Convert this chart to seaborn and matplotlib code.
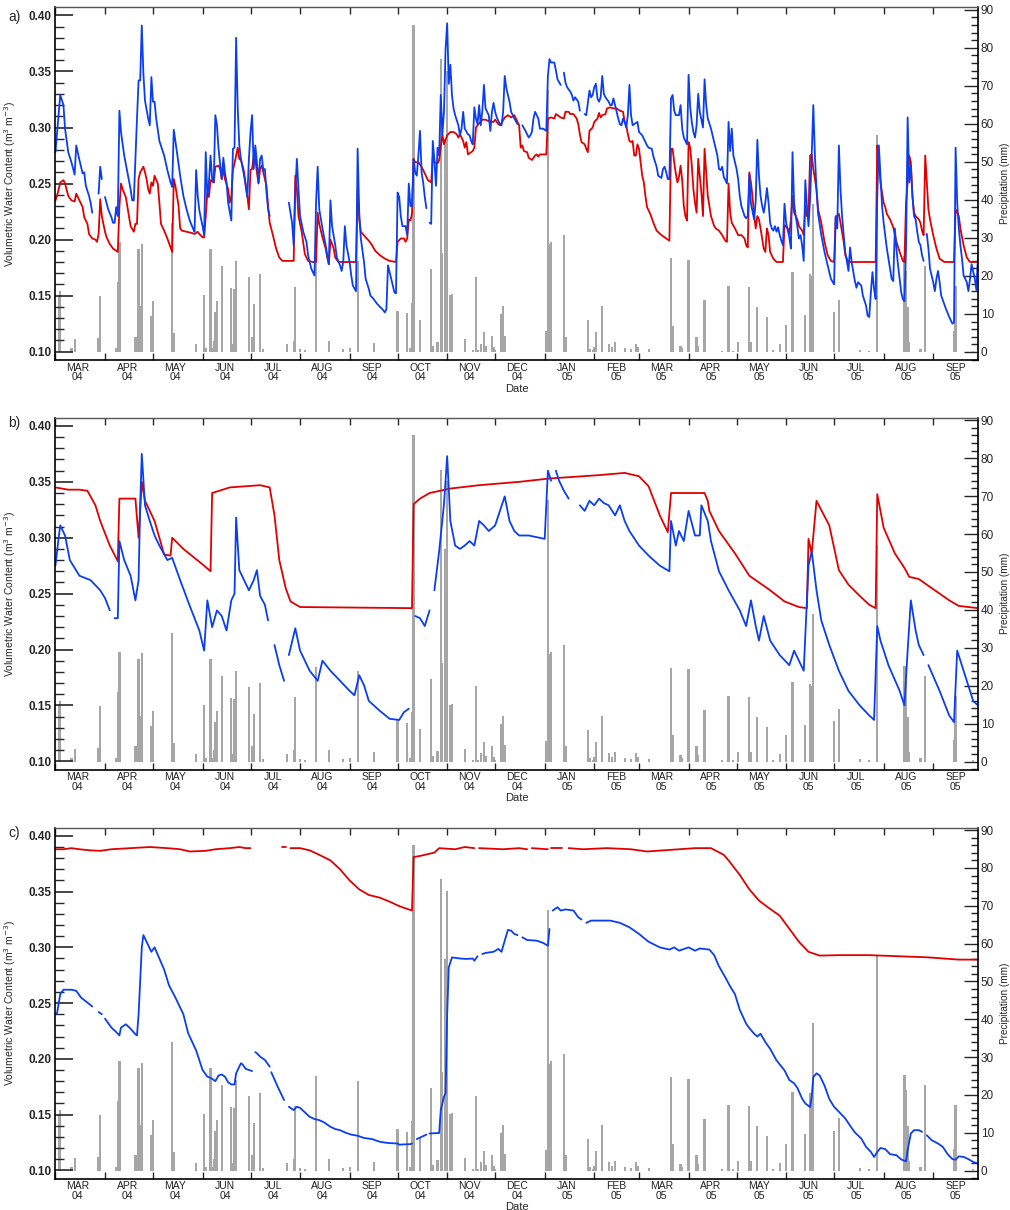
import numpy as np
import pandas as pd
import seaborn as sns
import matplotlib.pyplot as plt
import matplotlib.dates as mdates
from matplotlib.ticker import MultipleLocator, FuncFormatter

# all records are given as days since 1 March 2004
START = pd.Timestamp("2004-03-01")
LAST_DAY = 577.0

# daily precipitation (day, mm) - same gauge for the three profiles
rain = [
    (2, 15), (3, 16), (10, 1), (12, 3.4), (27, 3.6), (28, 14.6), (38, 1), (39, 18.3),
    (40, 29), (50, 4), (51, 2), (52, 27), (53, 12), (54, 28.5), (60, 9.4), (61, 13.3),
    (73, 34), (74, 5), (88, 2), (93, 14.9), (94, 1), (97, 27), (98, 1), (99, 3),
    (100, 10.4), (101, 13.3), (104, 22.6), (110, 16.7), (111, 2), (112, 16.5), (113, 24),
    (121, 19.6), (123, 4), (124, 12.6), (128, 20.6), (130, 0.7), (145, 2), (149, 3),
    (150, 17), (153, 0.8), (156, 0.5), (163, 25), (171, 3), (180, 0.8), (184, 1),
    (189, 23.8), (199, 2.4), (214, 10.9), (220, 10.3), (222, 1), (223, 13), (224, 86),
    (228, 8.5), (235, 21.8), (236, 1.6), (239, 2.7), (241, 77), (242, 26), (244, 56),
    (245, 74), (247, 15), (248, 15.2), (256, 3.3), (261, 0.4), (263, 19.8), (264, 0.4),
    (266, 2.2), (268, 5.2), (269, 1.6), (273, 4.2), (274, 1.2), (275, 0.5), (279, 10),
    (280, 12), (281, 4.3), (307, 5.5), (308, 69), (309, 28.3), (310, 29), (318, 30.8),
    (319, 4), (333, 8.3), (334, 0.9), (336, 0.5), (337, 1.3), (338, 5.2), (342, 12),
    (346, 2.2), (348, 1.2), (350, 2.6), (356, 1), (360, 0.8), (363, 2.2), (364, 1.2),
    (371, 0.8), (385, 24.8), (386, 6.9), (391, 1.7), (392, 1), (396, 24.3), (401, 4),
    (402, 1.7), (406, 13.6), (417, 0.3), (421, 17.4), (424, 0.3), (427, 2.6), (434, 17),
    (435, 2.5), (439, 11.7), (445, 9.1), (449, 0.5), (453, 2), (457, 7), (461, 20.9),
    (469, 9.7), (472, 20.5), (473, 20), (474, 38.9), (487, 10.6), (490, 13.8), (503, 0.6),
    (509, 0.3), (514, 57), (531, 25.3), (532, 21.2), (533, 11.7), (534, 2.6), (541, 0.9),
    (544, 22.6), (562, 5.6), (563, 17.4), (574, 0.3),
]

# volumetric water content (day, m3/m3); None = break in the record
a_red = [
    (0, .235), (1, .239), (3, .251), (5, .253), (6, .250), (8, .239), (10, .235), (12, .234),
    (13, .241), (15, .235), (17, .229), (18, .220), (20, .214), (21, .205), (23, .201),
    (25, .200), (26, .198), (27, .205), (28, .236), (29, .221), (31, .207), (32, .202),
    (34, .196), (36, .192), (38, .190), (39, .189), (40, .229), (41, .250), (42, .245),
    (44, .238), (46, .221), (47, .212), (49, .207), (50, .214), (51, .214), (52, .254),
    (53, .260), (55, .265), (56, .260), (57, .254), (58, .245), (59, .241), (60, .251),
    (61, .248), (62, .257), (64, .250), (65, .233), (66, .214), (68, .208), (70, .201),
    (72, .193), (73, .189), (74, .254), (75, .248), (77, .230), (78, .210), (79, .208),
    (82, .207), (85, .206), (87, .205), (89, .207), (90, .205), (92, .202), (93, .202),
    (94, .221), (95, .242), (96, .238), (97, .253), (99, .251), (100, .265), (102, .266),
    (103, .263), (104, .254), (105, .263), (106, .254), (108, .245), (109, .233), (110, .239),
    (111, .262), (112, .268), (114, .282), (115, .272), (116, .271), (117, .266), (118, .260),
    (120, .239), (121, .227), (122, .262), (123, .263), (124, .275), (125, .272), (126, .260),
    (127, .250), (128, .263), (129, .266), (130, .260), (132, .248), (133, .230), (134, .215),
    (136, .204), (138, .192), (140, .184), (142, .181), (145, .181), (148, .181), (149, .181),
    (150, .257), (151, .245), (152, .221), (154, .207), (156, .187), (158, .181), (161, .180),
    (163, .180), (164, .224), (165, .214), (167, .202), (169, .192), (170, .184), (171, .178),
    (172, .200), (174, .192), (175, .184), (177, .180), (180, .180), (184, .180), (188, .180),
    (189, .245), (190, .218), (191, .207), (194, .202), (196, .199), (198, .195), (200, .190),
    (203, .186), (206, .183), (209, .181), (213, .180), (214, .198), (216, .201), (218, .201),
    (219, .198), (220, .201), (221, .218), (222, .217), (223, .223), (224, .272), (225, .269),
    (227, .269), (229, .265), (230, .262), (232, .256), (233, .253), (235, .251), (236, .274),
    (237, .269), (239, .268), (240, .271), (242, .294), (243, .285), (245, .293), (247, .296),
    (249, .296), (251, .294), (252, .291), (253, .294), (255, .288), (256, .282), (257, .287),
    (258, .276), (260, .278), (261, .279), (262, .282), (263, .300), (264, .302), (267, .307),
    (269, .307), (272, .305), (274, .305), (275, .307), (277, .303), (278, .302), (279, .304),
    (281, .309), (283, .311), (285, .309), (287, .311), (288, .308), (290, .302), (291, .282),
    (292, .284), (293, .279), (295, .278), (296, .273), (298, .271), (300, .275), (301, .276),
    (302, .274), (303, .276), (305, .276), (307, .276), (308, .308), (310, .309), (312, .308),
    (313, .312), (314, .311), (316, .309), (318, .308), (319, .314), (321, .314), (322, .312),
    (324, .312), (326, .308), (327, .303), (328, .294), (329, .287), (331, .285), (332, .281),
    (333, .278), (334, .297), (336, .300), (337, .305), (339, .308), (340, .313), (341, .309),
    (342, .311), (344, .312), (345, .317), (347, .318), (349, .317), (351, .317), (353, .315),
    (355, .314), (356, .305), (357, .302), (358, .294), (359, .288), (360, .287), (361, .288),
    (362, .275), (363, .275), (364, .285), (365, .281), (366, .269), (367, .257), (368, .251),
    (369, .239), (370, .229), (372, .223), (374, .215), (376, .208), (379, .204), (381, .202),
    (383, .200), (384, .199), (385, .281), (386, .281), (387, .269), (388, .259), (389, .251),
    (390, .256), (391, .266), (392, .253), (393, .230), (394, .221), (395, .217), (396, .287),
    (397, .282), (398, .266), (399, .245), (400, .233), (401, .224), (402, .272), (403, .257),
    (404, .242), (405, .221), (406, .281), (407, .260), (408, .239), (410, .221), (412, .212),
    (413, .210), (415, .208), (417, .204), (419, .199), (420, .198), (421, .250), (422, .224),
    (423, .215), (425, .210), (427, .204), (429, .204), (431, .201), (432, .195), (433, .193),
    (434, .260), (435, .251), (436, .238), (437, .221), (438, .210), (439, .221), (440, .218),
    (441, .210), (442, .201), (443, .192), (444, .189), (445, .210), (446, .204), (447, .189),
    (449, .183), (451, .180), (455, .180), (456, .213), (458, .210), (459, .205), (460, .218),
    (461, .239), (462, .224), (464, .218), (465, .212), (467, .208), (468, .204), (469, .230),
    (470, .221), (471, .223), (472, .275), (473, .276), (474, .263), (476, .245), (477, .227),
    (479, .215), (481, .198), (483, .186), (485, .181), (487, .180), (488, .220), (489, .221),
    (490, .223), (491, .215), (493, .198), (494, .186), (496, .180), (500, .180), (506, .180),
    (513, .180), (514, .284), (515, .272), (516, .251), (518, .233), (519, .229), (520, .223),
    (522, .218), (524, .211), (526, .198), (528, .189), (530, .181), (531, .180), (532, .233),
    (533, .251), (534, .275), (535, .269), (536, .239), (537, .224), (538, .221), (540, .218),
    (541, .215), (542, .208), (543, .204), (544, .275), (545, .251), (546, .227), (547, .218),
    (549, .204), (551, .192), (553, .183), (556, .180), (562, .180), (563, .227), (565, .221),
    (566, .210), (568, .195), (570, .184), (572, .180), (577, .180),
]

a_blue = [
    (0, .278), (3, .329), (5, .320), (6, .299), (8, .278), (10, .269), (12, .258), (13, .284),
    (15, .271), (17, .259), (18, .260), (19, .248), (21, .239), (22, .233), (23, .224), None,
    (27, .241), (28, .265), (29, .254), None,
    (31, .238), (33, .227), (35, .220), (36, .215), (37, .215), (38, .229), (39, .221),
    (40, .315), (41, .296), (43, .275), (45, .260), (47, .245), (48, .235), (49, .235),
    (51, .308), (52, .342), (53, .342), (54, .391), (55, .348), (56, .324), (58, .308),
    (59, .302), (60, .345), (61, .323), (62, .323), (63, .308), (65, .288), (68, .275),
    (70, .262), (72, .251), (73, .247), (74, .298), (76, .278), (78, .257), (80, .239),
    (82, .227), (84, .217), (86, .210), (87, .207), (88, .262), (89, .239), (90, .226),
    (92, .212), (93, .204), (94, .278), (95, .238), (96, .251), (97, .275), (98, .254),
    (99, .251), (100, .311), (101, .302), (102, .281), (104, .254), (105, .273), (106, .260),
    (107, .251), (108, .233), (110, .217), (111, .281), (112, .282), (113, .380), (114, .317),
    (115, .284), (116, .272), (118, .257), (120, .238), (121, .272), (122, .296), (123, .311),
    (124, .263), (125, .284), (126, .269), (127, .251), (128, .272), (129, .275), (130, .262),
    (131, .263), (132, .242), (133, .227), (134, .221), None,
    (146, .233), (148, .215), (149, .195), (150, .242), (151, .272), (152, .245), (153, .221),
    (155, .207), (157, .198), (158, .186), (160, .174), (162, .168), (163, .233), (164, .265),
    (165, .227), (167, .210), (169, .195), (170, .186), (171, .178), (172, .235), (173, .212),
    (175, .195), (176, .184), (178, .177), (179, .172), (180, .180), (181, .212), (182, .195),
    (184, .180), (185, .168), (186, .159), (188, .154), (189, .281), (190, .224), (191, .201),
    (193, .180), (194, .165), (196, .156), (197, .150), (199, .147), (201, .143), (203, .140),
    (205, .137), (206, .135), (207, .138), (208, .177), (210, .165), (212, .153), (213, .152),
    (214, .242), (215, .238), (216, .221), (217, .212), (219, .212), (220, .204), (221, .250),
    (222, .230), (223, .230), (224, .272), (225, .260), (226, .257), (227, .275), (228, .297),
    (229, .260), (230, .251), (231, .238), (232, .228), None,
    (234, .215), (235, .214), (236, .288), (237, .271), (238, .248), (239, .282), (240, .275),
    (241, .329), (242, .294), (243, .314), (244, .370), (245, .393), (246, .339), (247, .356),
    (248, .329), (249, .317), (250, .311), (252, .302), (253, .293), (254, .299), (255, .314),
    (256, .299), (258, .294), (259, .293), (260, .288), (261, .285), (262, .318), (263, .308),
    (264, .303), (265, .320), (266, .302), (267, .315), (268, .338), (269, .317), (271, .311),
    (272, .297), (273, .314), (274, .322), (275, .314), (276, .309), (278, .303), (279, .302),
    (280, .314), (281, .346), (282, .335), (284, .323), (285, .314), (287, .308), (289, .303),
    None,
    (292, .302), (294, .297), (296, .291), (297, .293), (298, .296), (299, .308), (300, .314),
    (302, .308), (303, .299), (305, .299), (307, .297), (308, .346), (309, .361), (310, .358),
    (312, .358), (313, .351), (314, .343), (316, .338), None,
    (318, .349), (319, .340), (320, .336), (322, .332), (323, .329), (324, .324), (325, .327),
    (327, .323), (328, .315), None,
    (331, .312), (332, .311), (334, .333), (335, .327), (336, .329), (337, .336), (338, .339),
    (339, .326), (340, .323), (341, .327), (342, .346), (343, .330), (344, .327), (346, .323),
    (347, .320), (348, .320), (349, .326), (350, .320), (352, .308), (353, .303), (354, .302),
    (355, .308), (356, .305), (357, .300), (358, .311), (359, .338), (360, .311), (361, .302),
    (362, .303), (364, .305), (365, .296), (367, .293), (368, .290), (370, .284), (371, .282),
    (373, .281), (374, .274), (376, .265), (377, .257), (379, .255), (380, .263), (381, .265),
    (382, .260), (383, .254), (384, .254), (385, .326), (386, .329), (387, .315), (388, .311),
    (390, .311), (391, .320), (392, .299), (393, .291), (395, .285), (396, .347), (397, .318),
    (398, .305), (399, .296), (400, .291), (401, .302), (402, .330), (403, .314), (405, .300),
    (406, .343), (407, .320), (408, .308), (410, .299), (412, .287), (414, .275), (415, .263),
    (416, .262), (417, .265), (418, .256), (420, .250), (421, .305), (422, .279), (423, .299),
    (424, .275), (426, .263), (427, .254), (428, .239), (429, .230), (431, .221), (432, .219),
    (433, .221), (434, .258), (435, .232), (437, .218), (438, .235), (439, .289), (440, .257),
    (441, .239), (442, .230), (443, .224), (444, .233), (445, .246), (446, .233), (447, .215),
    (448, .210), (449, .208), (450, .212), (451, .207), (452, .211), (453, .204), (454, .199),
    (455, .195), (456, .232), (457, .215), (459, .202), (460, .192), (461, .278), (462, .232),
    (463, .221), (464, .212), (465, .201), (466, .204), (467, .195), (468, .181), (469, .253),
    (470, .230), (471, .212), (472, .236), (473, .275), (474, .320), (475, .275), (476, .245),
    (477, .223), (479, .204), (481, .189), (483, .177), (485, .165), (487, .160), (488, .221),
    (489, .210), (490, .284), (491, .245), (492, .221), (493, .204), (494, .189), (496, .172),
    (497, .193), (498, .180), (500, .163), (501, .157), (502, .162), (504, .159), (505, .150),
    (507, .141), (508, .132), (509, .131), (510, .153), (511, .171), (512, .156), (513, .147),
    (514, .239), (515, .284), (516, .257), (517, .230), (518, .215), (520, .192), (522, .174),
    (523, .165), (524, .163), (525, .210), (526, .192), (527, .177), (528, .165), (529, .153),
    (530, .147), (531, .145), (532, .192), (533, .309), (534, .251), (535, .266), (536, .239),
    (537, .221), (538, .218), (539, .207), (540, .198), (541, .195), (542, .186), (543, .181),
    None,
    (545, .205), (546, .192), (547, .174), (549, .162), (550, .154), (551, .165), (552, .172),
    (553, .162), (554, .150), (557, .138), (559, .131), (561, .125), (562, .126), (563, .282),
    (564, .233), (565, .210), (566, .195), (567, .183), (568, .168), (570, .162), (571, .154),
    (572, .165), (573, .178), (575, .165), (576, .155), (577, .186),
]

b_red = [
    (0, .345), (8, .343), (15, .343), (20, .342), (25, .329), (28, .315), (34, .293),
    (39, .279), (40, .335), (50, .335), (52, .300), (54, .350), (56, .333), (62, .315),
    (68, .285), (72, .284), (73, .300), (80, .290), (93, .275), (97, .270), (98, .340),
    (109, .345), (128, .347), (134, .345), (137, .320), (140, .280), (144, .255), (147, .243),
    (153, .238), (223, .237), (224, .330), (228, .335), (234, .340), (247, .344), (265, .347),
    (290, .350), (309, .353), (340, .356), (356, .358), (365, .355), (371, .346), (378, .320),
    (383, .305), (385, .340), (406, .340), (408, .333), (409, .324), (415, .306), (425, .286),
    (434, .266), (447, .253), (456, .243), (465, .238), (470, .237), (471, .299), (473, .286),
    (476, .333), (484, .311), (490, .271), (496, .258), (503, .248), (509, .240), (513, .237),
    (514, .339), (518, .309), (525, .286), (531, .273), (534, .265), (540, .263), (546, .257),
    (553, .250), (559, .244), (565, .239), (577, .237),
]

b_blue = [
    (0, .275), (2, .300), (3, .311), (6, .302), (9, .280), (15, .266), (22, .262), (28, .253),
    (31, .246), (34, .235), None,
    (37, .228), (39, .228), (40, .297), (43, .280), (47, .266), (50, .244), (52, .262),
    (53, .330), (54, .375), (56, .329), (59, .315), (62, .302), (65, .293), (70, .280),
    (73, .282), (78, .262), (84, .239), (90, .217), (93, .199), (95, .244), (98, .220),
    (101, .235), (104, .230), (107, .217), (110, .244), (112, .250), (113, .318), (115, .271),
    (118, .262), (121, .253), (124, .262), (126, .271), (128, .248), (131, .240), (133, .226),
    None,
    (137, .204), (140, .186), (143, .172), None,
    (146, .195), (150, .219), (153, .199), (159, .181), (164, .172), (167, .190), (172, .181),
    (178, .172), (184, .163), (187, .159), (190, .177), (193, .168), (196, .154), (203, .145),
    (209, .138), (215, .137), (218, .144), (221, .147), None,
    (225, .230), (228, .228), (231, .221), (234, .235), None,
    (237, .253), (240, .288), (243, .330), (245, .373), (247, .315), (250, .293), (253, .290),
    (256, .293), (259, .297), (262, .293), (265, .315), (268, .311), (271, .306), (275, .311),
    (278, .324), (281, .337), (284, .315), (287, .306), (290, .302), (296, .302), (306, .299),
    (308, .360), (310, .351), None,
    (313, .360), (315, .351), (318, .342), (321, .335), None,
    (328, .329), (331, .324), (334, .333), (337, .329), (340, .335), (343, .331), (346, .329),
    (350, .320), (353, .329), (356, .315), (359, .306), (365, .293), (371, .284), (378, .275),
    (384, .270), (385, .315), (388, .293), (390, .306), (393, .297), (396, .324), (400, .302),
    (403, .302), (404, .329), (408, .315), (410, .297), (415, .270), (421, .253), (428, .235),
    (432, .221), (435, .244), (438, .221), (440, .208), (443, .230), (447, .208), (453, .195),
    (459, .186), (462, .199), (465, .190), (468, .181), (471, .275), (473, .288), (476, .253),
    (479, .226), (484, .204), (490, .181), (496, .163), (503, .150), (509, .141), (512, .137),
    (514, .221), (516, .208), (521, .186), (528, .163), (531, .150), (533, .199), (535, .244),
    (538, .217), (540, .204), (543, .195), None,
    (546, .186), (553, .163), (559, .141), (562, .135), (564, .199), (566, .190), (570, .172),
    (574, .154), (577, .150),
]

c_red = [
    (0, .388), (5, .388), (10, .389), (15, .388), (22, .387), (28, .3866), (35, .388),
    (47, .389), (59, .390), (70, .389), (78, .388), (84, .386), (94, .3866), (100, .388),
    (109, .389), (115, .390), (119, .389), (122, .389), None,
    (142, .390), (144, .390), None,
    (147, .389), (153, .389), (159, .387), (165, .383), (172, .378), (178, .370), (184, .360),
    (190, .352), (196, .347), (203, .3445), (209, .341), (215, .337), (223, .333), (224, .381),
    (228, .382), (234, .384), (237, .385), (240, .389), (250, .388), (256, .390), (262, .389),
    None,
    (265, .389), (280, .388), (290, .389), (295, .388), None,
    (298, .389), (308, .388), None,
    (310, .389), (317, .389), None,
    (321, .389), (330, .388), (345, .389), (360, .388), (370, .386), (380, .387), (390, .388),
    (400, .389), (410, .389), (414, .386), (418, .383), (421, .378), (428, .365), (434, .352),
    (440, .342), (446, .3355), (453, .3284), (459, .3167), (465, .305), (471, .296),
    (478, .2926), (490, .293), (509, .293), (528, .292), (546, .291), (565, .289), (577, .289),
]

c_blue = [
    (0, .240), (1, .241), (3, .258), (5, .262), (10, .262), (13, .261), (16, .255), (23, .247),
    None,
    (27, .242), (29, .240), None,
    (31, .236), (35, .228), (38, .224), (40, .221), (41, .228), (44, .231), (47, .227),
    (50, .222), (51, .221), (52, .240), (54, .300), (55, .311), (57, .305), (60, .296),
    (62, .300), (65, .290), (68, .280), (71, .266), (75, .255), (80, .240), (83, .223),
    (88, .2075), (92, .190), (95, .184), (97, .183), (99, .181), (100, .180), (102, .185),
    (104, .186), (106, .184), (108, .179), (110, .177), (112, .177), (113, .187), (116, .196),
    (117, .195), (119, .191), (123, .189), None,
    (125, .206), (126, .205), (128, .202), (131, .199), (134, .193), None,
    (135, .188), (139, .175), (143, .163), None,
    (146, .157), (148, .155), (149, .154), (151, .157), (153, .156), (156, .152), (159, .148),
    (162, .146), (165, .145), (168, .143), (172, .139), (175, .137), (178, .136), (181, .134),
    (185, .132), (189, .131), (193, .129), (198, .128), (203, .1255), (208, .1245), (214, .124),
    (215, .123), (222, .1235), (223, .124), None,
    (226, .128), (229, .130), (232, .132), None,
    (234, .133), (240, .1335), (241, .154), (243, .166), (244, .169), (245, .240), (246, .282),
    (248, .291), (253, .290), (257, .2896), (261, .290), (262, .288), (264, .292), None,
    (267, .294), (269, .295), (274, .296), (277, .2986), (279, .296), (281, .306), (283, .3156),
    (285, .315), (287, .312), (289, .311), None,
    (292, .309), (295, .3066), (301, .306), (305, .304), (308, .3015), (309, .3165), None,
    (311, .333), (314, .336), (316, .333), (319, .334), (324, .333), (327, .327), (329, .325),
    None,
    (332, .322), (335, .324), (340, .324), (347, .324), (353, .322), (359, .318), (365, .312),
    (371, .305), (378, .300), (384, .298), (387, .300), (390, .297), (396, .300), (400, .297),
    (403, .299), (409, .298), (412, .293), (415, .283), (419, .273), (422, .265), (425, .258),
    (428, .244), (432, .2315), (434, .2275), (437, .2225), (439, .220), (441, .2225),
    (444, .215), (447, .209), (451, .1986), (456, .1896), (459, .181), (462, .178), (464, .174),
    (467, .1643), (469, .160), (472, .1567), (473, .166), (474, .1836), (476, .187), (478, .185),
    (481, .176), (484, .164), (487, .157), (491, .151), (494, .1465), (497, .140), (500, .134),
    (504, .1285), (507, .121), (510, .1165), (512, .112), (514, .1165), (516, .120), (519, .119),
    (522, .1145), (526, .1135), (529, .1097), (532, .108), (533, .118), (535, .133), (537, .136),
    (540, .136), (542, .1345), None,
    (545, .1314), (548, .127), (552, .124), (555, .121), (558, .1145), (561, .110), (563, .1095),
    (565, .1125), (568, .112), (571, .110), (574, .1075), (577, .106),
]

RED = "#e10000"
BLUE = "#0a3ef0"
GRAY = "#a6a6a6"


def series_frame(points):
    # split the record at the None markers so that gaps stay open
    rows, seg = [], 0
    for p in points:
        if p is None:
            seg += 1
            continue
        rows.append((p[0], p[1], seg))
    df = pd.DataFrame(rows, columns=["day", "vwc", "seg"])
    df["date"] = START + pd.to_timedelta(df["day"], unit="D")
    return df


rain_df = pd.DataFrame(rain, columns=["day", "mm"])
rain_df["date"] = START + pd.to_timedelta(rain_df["day"], unit="D")

sns.set_style("ticks")
plt.rcParams["font.family"] = ["Liberation Sans", "DejaVu Sans"]

fig = plt.figure(figsize=(10.1, 12.1), dpi=100)
panels = [
    ("a)", a_red, a_blue, [0.0549, 0.7025, 0.9134, 0.2917], 0.986),
    ("b)", b_red, b_blue, [0.0549, 0.3640, 0.9134, 0.2909], 0.6505),
    ("c)", c_red, c_blue, [0.0549, 0.0260, 0.9134, 0.2901], 0.3115),
]

month_fmt = FuncFormatter(lambda x, pos: mdates.num2date(x).strftime("%b\n%y").upper())

for tag, red, blue, pos, ty in panels:
    ax = fig.add_axes(pos)
    ax2 = ax.twinx()

    # precipitation bars on the right axis, drawn underneath the lines
    ax2.bar(rain_df["date"], rain_df["mm"], width=1.4, color=GRAY, linewidth=0, align="center")
    ax2.set_ylim(-2.1, 90.7)
    ax2.set_yticks(range(0, 91, 10))
    ax2.yaxis.set_minor_locator(MultipleLocator(2))
    ax2.tick_params(axis="y", which="major", direction="in", length=10, width=1.0,
                    labelsize=8.5, pad=2)
    ax2.tick_params(axis="y", which="minor", direction="in", length=5, width=1.0)
    ax2.set_ylabel("Precipitation (mm)", fontsize=7.2)
    ax2.yaxis.set_label_coords(1.0235, 0.5)

    ax.set_zorder(ax2.get_zorder() + 1)
    ax.patch.set_visible(False)

    sns.lineplot(data=series_frame(red), x="date", y="vwc", units="seg", estimator=None,
                 sort=False, color=RED, linewidth=1.3, ax=ax, legend=False)
    sns.lineplot(data=series_frame(blue), x="date", y="vwc", units="seg", estimator=None,
                 sort=False, color=BLUE, linewidth=1.3, ax=ax, legend=False)

    ax.set_xlim(START, START + pd.Timedelta(days=LAST_DAY))
    ax.set_ylim(0.0926, 0.4075)
    vt = [0.10, 0.15, 0.20, 0.25, 0.30, 0.35, 0.40]
    ax.set_yticks(vt, labels=[f"{v:.2f}" for v in vt], fontweight="bold")
    ax.yaxis.set_minor_locator(MultipleLocator(0.01))
    ax.tick_params(axis="y", which="major", direction="in", length=13, width=1.2,
                   labelsize=8.5, pad=3)
    ax.tick_params(axis="y", which="minor", direction="in", length=6.5, width=1.0)

    ax.xaxis.set_major_locator(mdates.MonthLocator())
    ax.xaxis.set_major_formatter(plt.NullFormatter())
    ax.xaxis.set_minor_locator(mdates.MonthLocator(bymonthday=15))
    ax.xaxis.set_minor_formatter(month_fmt)
    ax.tick_params(axis="x", which="major", direction="in", length=5, width=1.0,
                   top=True, bottom=True)
    ax.tick_params(axis="x", which="minor", length=0, labelsize=7.5, pad=2,
                   labelcolor="#222222")
    for lbl in ax.get_xticklabels(minor=True):
        lbl.set_linespacing(0.95)

    ax.set_xlabel("Date", fontsize=8, labelpad=1)
    ax.set_ylabel("Volumetric Water Content (m$^3$ m$^{-3}$)", fontsize=7.5)
    ax.yaxis.set_label_coords(-0.041, 0.5)

    for side in ["left", "bottom", "right"]:
        ax.spines[side].set_linewidth(1.2)
        ax.spines[side].set_color("black")
    ax.spines["top"].set_linewidth(1.0)
    ax.spines["top"].set_color("#555555")
    for s in ax2.spines.values():
        s.set_visible(False)

    fig.text(0.008, ty, tag, fontsize=10, va="center", ha="left")

fig.savefig("out.png", dpi=100)
